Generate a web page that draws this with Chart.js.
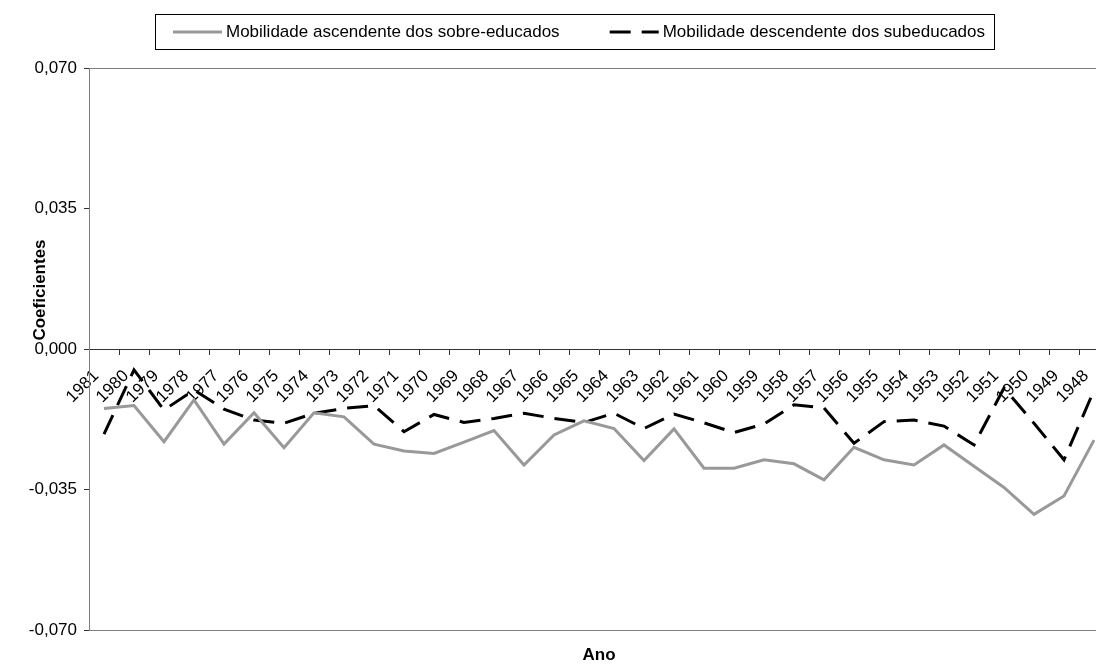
<!DOCTYPE html>
<html>
<head>
<meta charset="utf-8">
<script src="https://cdn.jsdelivr.net/npm/chart.js@4.4.0/dist/chart.umd.min.js"></script>
<style>
  html, body { margin: 0; padding: 0; background: #fff; overflow: hidden; }
  #wrap { width: 1112px; height: 666px; }
</style>
</head>
<body>
<div id="wrap"><canvas id="chart" width="1112" height="666"></canvas></div>
<script>
// anos, do mais recente ao mais antigo
const years = ['1981', '1980', '1979', '1978', '1977', '1976', '1975', '1974', '1973', '1972',
  '1971', '1970', '1969', '1968', '1967', '1966', '1965', '1964', '1963', '1962',
  '1961', '1960', '1959', '1958', '1957', '1956', '1955', '1954', '1953', '1952',
  '1951', '1950', '1949', '1948'];

const ascendente = [-0.0148, -0.0141, -0.0231, -0.0127, -0.0237, -0.0159, -0.0246, -0.0159, -0.0169, -0.0237,
  -0.0254, -0.0260, -0.0232, -0.0203, -0.0289, -0.0214, -0.0179, -0.0198, -0.0278, -0.0199,
  -0.0297, -0.0297, -0.0276, -0.0286, -0.0326, -0.0245, -0.0276, -0.0289, -0.0239, -0.0292,
  -0.0345, -0.0412, -0.0366, -0.0227];

const descendente = [-0.0212, -0.0052, -0.0152, -0.0102, -0.0150, -0.0177, -0.0185, -0.0160, -0.0148, -0.0141,
  -0.0206, -0.0163, -0.0183, -0.0173, -0.0160, -0.0173, -0.0183, -0.0160, -0.0198, -0.0162,
  -0.0184, -0.0208, -0.0187, -0.0139, -0.0147, -0.0235, -0.0181, -0.0177, -0.0192, -0.0239,
  -0.0097, -0.0185, -0.0276, -0.0103];

const yTicks = [-0.07, -0.035, 0, 0.035, 0.07];

const FONT = '"Liberation Sans", Arial, sans-serif';
Chart.defaults.font.family = FONT;
Chart.defaults.font.size = 17;
Chart.defaults.color = '#000';

// borda da área do gráfico + título do eixo y (deslocado para cima, como no original)
const plotFrame = {
  id: 'plotFrame',
  beforeDatasetsDraw(chart) {
    const a = chart.chartArea;
    const ctx = chart.ctx;
    ctx.save();
    ctx.strokeStyle = '#808080';
    ctx.lineWidth = 1;
    ctx.strokeRect(a.left + 0.5, a.top + 0.5, a.right - a.left, a.bottom - a.top);
    ctx.translate(40, 290);
    ctx.rotate(-Math.PI / 2);
    ctx.font = 'bold 17px ' + FONT;
    ctx.fillStyle = '#000';
    ctx.textAlign = 'center';
    ctx.textBaseline = 'middle';
    ctx.fillText('Coeficientes', 0, 0);
    ctx.restore();
  }
};

// legenda em caixa, como no Excel
const boxLegend = {
  id: 'boxLegend',
  afterDraw(chart) {
    const ctx = chart.ctx;
    const ds = chart.data.datasets;
    ctx.save();
    ctx.font = '17px ' + FONT;
    ctx.strokeStyle = '#000';
    ctx.lineWidth = 1;
    ctx.strokeRect(155.5, 14.5, 839, 35);
    const y = 32;
    const w2 = ctx.measureText(ds[1].label).width;
    const starts = [173, 985 - w2 - 53];
    ds.forEach((d, i) => {
      const x = starts[i];
      ctx.beginPath();
      ctx.setLineDash(d.borderDash || []);
      ctx.strokeStyle = d.borderColor;
      ctx.lineWidth = d.borderWidth;
      ctx.moveTo(x, y);
      ctx.lineTo(x + 49, y);
      ctx.stroke();
      ctx.setLineDash([]);
      ctx.fillStyle = '#000';
      ctx.textBaseline = 'middle';
      ctx.textAlign = 'left';
      ctx.fillText(d.label, x + 53, y);
    });
    ctx.restore();
  }
};

new Chart(document.getElementById('chart'), {
  type: 'line',
  data: {
    labels: years,
    datasets: [{
      label: 'Mobilidade ascendente dos sobre-educados',
      data: ascendente,
      borderColor: '#999999',
      borderWidth: 3,
      pointRadius: 0,
      tension: 0,
      fill: false
    }, {
      label: 'Mobilidade descendente dos subeducados',
      data: descendente,
      borderColor: '#000000',
      borderWidth: 3,
      borderDash: [21, 11],
      pointRadius: 0,
      tension: 0,
      fill: false
    }]
  },
  options: {
    responsive: false,
    animation: false,
    layout: { padding: { top: 68, right: 3, left: 0, bottom: 0 } },
    plugins: {
      legend: { display: false },
      tooltip: { enabled: false }
    },
    scales: {
      x: {
        type: 'category',
        position: { y: 0 },
        offset: true,
        grid: { display: true, drawOnChartArea: false, drawTicks: true, tickLength: 5, offset: true, color: '#333' },
        border: { display: true, color: '#333', width: 1 },
        ticks: { minRotation: 45, maxRotation: 45, autoSkip: false, padding: 12, labelOffset: -8 },
        afterFit: s => { s.paddingLeft = 0; s.paddingRight = 0; }
      },
      x2: {
        type: 'category',
        position: 'bottom',
        grid: { display: false },
        border: { display: false },
        ticks: { display: false },
        title: { display: true, text: 'Ano', font: { weight: 'bold', size: 17 }, padding: { top: 0, bottom: 0 } },
        afterFit: s => { s.height = 36; }
      },
      y: {
        min: -0.07,
        max: 0.07,
        afterBuildTicks: s => { s.ticks = yTicks.map(v => ({ value: v })); },
        afterFit: s => { s.width = 89; },
        grid: { display: true, drawOnChartArea: false, drawTicks: true, tickLength: 5, color: '#333' },
        border: { display: true, color: '#333', width: 1 },
        ticks: {
          padding: 7,
          callback: v => (Math.abs(v) < 1e-9 ? 0 : v).toFixed(3).replace('.', ',')
        }
      }
    }
  },
  plugins: [plotFrame, boxLegend]
});
</script>
</body>
</html>
